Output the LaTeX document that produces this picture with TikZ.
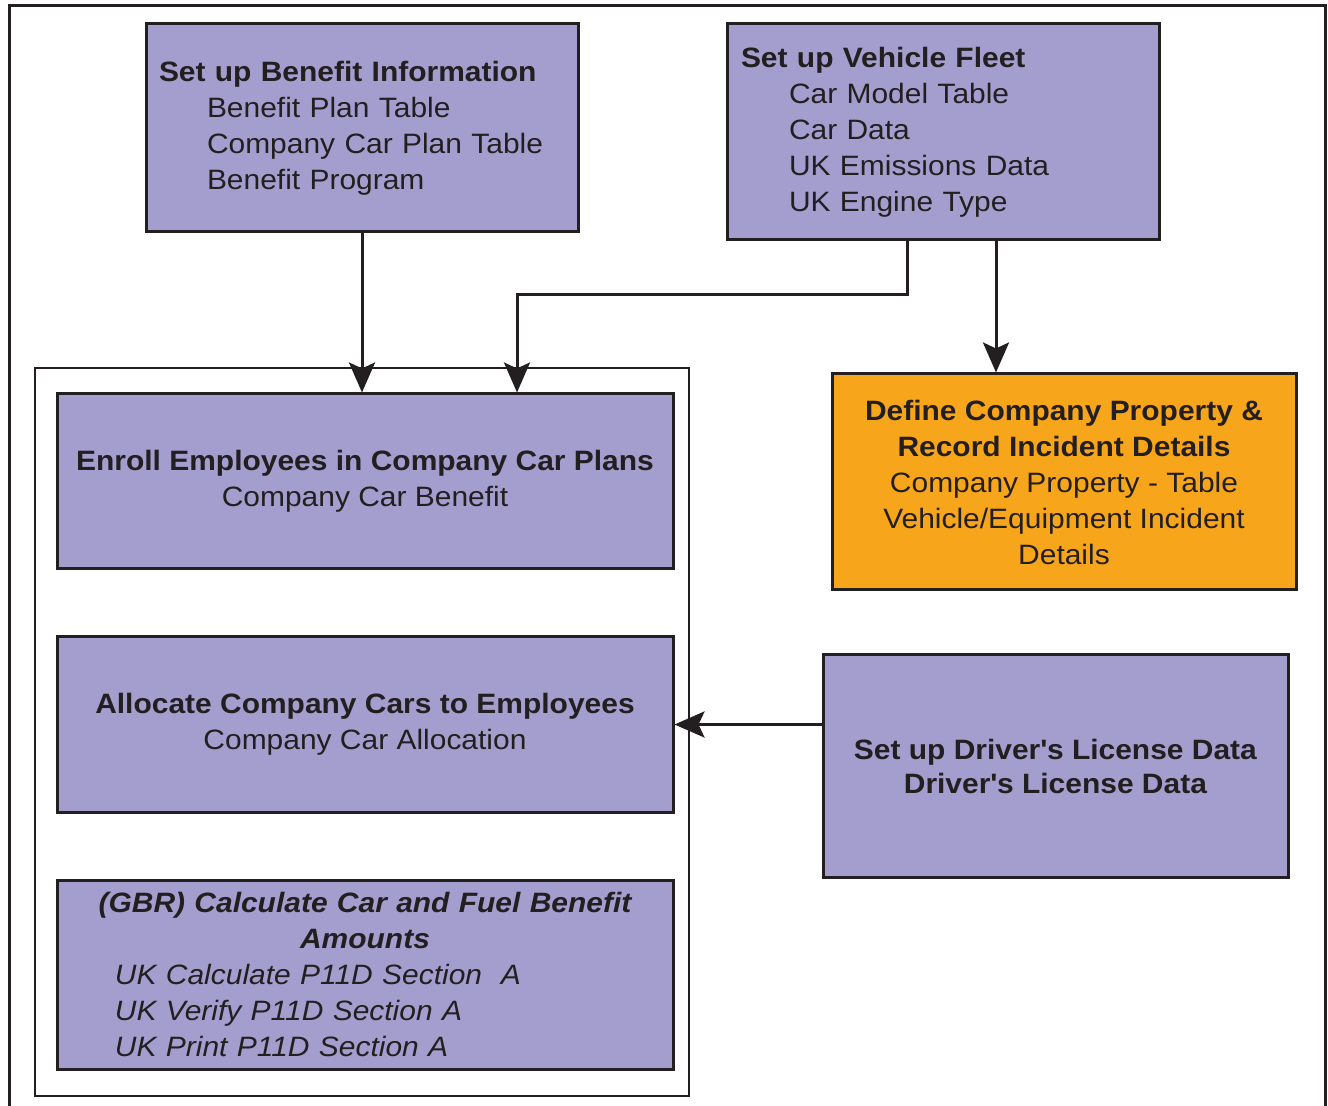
\documentclass[tikz,border=0pt]{standalone}
\usepackage{fontspec}
\setmainfont{Liberation Sans}[FakeStretch=1.07]
\usetikzlibrary{arrows.meta,positioning}

\definecolor{boxpurple}{RGB}{164,158,206}
\definecolor{proporange}{RGB}{247,166,27}
\definecolor{ink}{RGB}{35,31,32}

\tikzset{
  taskbox/.style={draw=ink, line width=1.5pt, fill=boxpurple, text=ink,
    font=\fontsize{14pt}{18pt}\selectfont, inner sep=0pt},
  flow/.style={draw=ink, line width=1.5pt, -{Stealth[length=15pt,width=13pt,inset=3pt]}},
}

\begin{document}
\begin{tikzpicture}[x=0.5pt, y=-0.5pt]
        \useasboundingbox (0,0) rectangle (1328,1106);
        \draw[ink, line width=1.5pt] (9,1106) |- (1325,6) -- (1325,1106);

        \node[draw=ink, line width=1.2pt, minimum width=327pt, minimum height=364pt] at (362,732)(grp){};

        \node[taskbox, minimum width=216pt, minimum height=104pt, text width=203pt, align=left] at (362,128)(bene){%
          \textbf{Set up Benefit Information}\\
          \hspace*{24pt}Benefit Plan Table\\
          \hspace*{24pt}Company Car Plan Table\\
          \hspace*{24pt}Benefit Program};
        \node[taskbox, minimum width=216pt, minimum height=108pt, text width=202pt, align=left] at (943,132)(fleet){%
          \textbf{Set up Vehicle Fleet}\\
          \hspace*{24pt}Car Model Table\\
          \hspace*{24pt}Car Data\\
          \hspace*{24pt}UK Emissions Data\\
          \hspace*{24pt}UK Engine Type};

        \node[taskbox, minimum width=308pt, minimum height=87.5pt, align=center] at (365,481.5)(enroll){%
          \textbf{Enroll Employees in Company Car Plans}\\
          Company Car Benefit};
        \node[taskbox, minimum width=308pt, minimum height=87.5pt, align=center] at (365,724.5)(alloc){%
          \textbf{Allocate Company Cars to Employees}\\
          Company Car Allocation};
        \node[taskbox, minimum width=308pt, minimum height=94.5pt, text width=300pt, align=left] at (365,974.5)(calc){%
          {\centering\bfseries\itshape (GBR) Calculate Car and Fuel Benefit\\ Amounts\par}
          \itshape
          \hspace*{25pt}UK Calculate P11D Section\ \ A\\
          \hspace*{25pt}UK Verify P11D Section A\\
          \hspace*{25pt}UK Print P11D Section A};

        \node[taskbox, fill=proporange, minimum width=232pt, minimum height=108pt, align=center] at (1064,482)(prop){%
          \textbf{Define Company Property \&}\\
          \textbf{Record Incident Details}\\
          Company Property - Table\\
          Vehicle/Equipment Incident\\
          Details};
        \node[taskbox, minimum width=232.5pt, minimum height=111pt, align=center] at (1055.5,766)(lic){%
          \textbf{Set up Driver\textquotesingle s License Data}\\[-1pt]
          \textbf{Driver\textquotesingle s License Data}};

        % connectors
        \draw[flow] (bene.south) -- (bene.south |- enroll.north);
        \draw[flow] ([xshift=-18pt]fleet.south) -- ++(0,53) -| ([xshift=76pt]enroll.north);
        \draw[flow] ([xshift=26.5pt]fleet.south) -- ([xshift=26.5pt]fleet.south |- prop.north);
        \draw[flow] (lic.west |- alloc.east) -- (alloc.east);
    \end{tikzpicture}
\end{document}
